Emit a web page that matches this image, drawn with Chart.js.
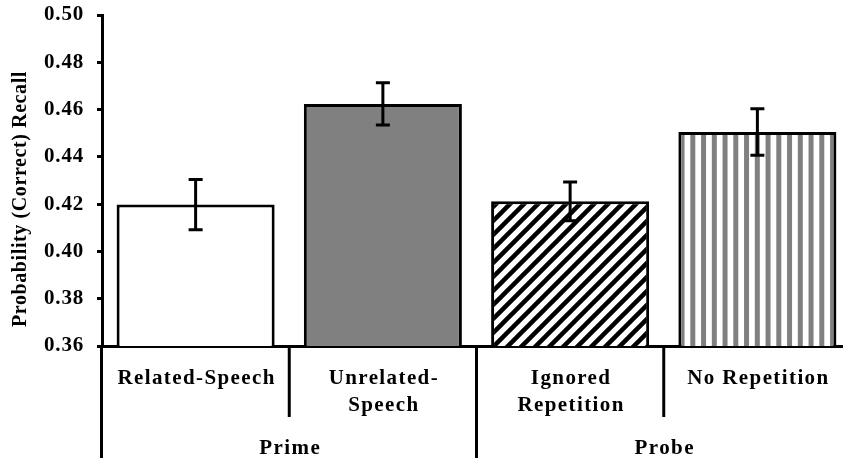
<!DOCTYPE html>
<html>
<head>
<meta charset="utf-8">
<script src="https://cdn.jsdelivr.net/npm/chart.js@4"></script>
<style>
  body { margin: 0; background: #fff; }
  #wrap { width: 843px; height: 472px; }
</style>
</head>
<body>
<div id="wrap"><canvas id="recallChart" width="843" height="472"></canvas></div>
<script>
// ===== data =====
const categories = [['Related-Speech'], ['Unrelated-', 'Speech'], ['Ignored', 'Repetition'], ['No Repetition']];
const groups = ['Prime', 'Probe'];
const groupSizes = [2, 2];
const recall = [0.4198, 0.4624, 0.4212, 0.4505];
const errors = [0.0106, 0.0089, 0.0082, 0.0098];
const yTicks = [0.36, 0.38, 0.40, 0.42, 0.44, 0.46, 0.48, 0.50];

const FONT = 'bold 21px "Liberation Serif"';

// ===== fill patterns =====
function hatchPattern() {
  const s = 14;
  const c = document.createElement('canvas');
  c.width = s; c.height = s;
  const g = c.getContext('2d');
  g.fillStyle = '#fff';
  g.fillRect(0, 0, s, s);
  g.strokeStyle = '#000';
  g.lineWidth = 4.5;
  g.beginPath();
  g.moveTo(-2, s + 2); g.lineTo(s + 2, -2);
  g.moveTo(-s / 2 - 2, s / 2 + 2); g.lineTo(s / 2 + 2, -s / 2 - 2);
  g.moveTo(s / 2 - 2, s * 1.5 + 2); g.lineTo(s * 1.5 + 2, s / 2 - 2);
  g.stroke();
  return g.createPattern(c, 'repeat');
}

function stripePattern() {
  const period = 10.75;
  const c = document.createElement('canvas');
  c.width = 43; c.height = 8;
  const g = c.getContext('2d');
  g.fillStyle = '#fff';
  g.fillRect(0, 0, 43, 8);
  g.fillStyle = '#808080';
  for (let i = 0; i < 4; i++) g.fillRect(i * period + 2.3, 0, 5, 8);
  return g.createPattern(c, 'repeat');
}

const fills = ['#ffffff', '#808080', hatchPattern(), stripePattern()];

// the last category runs past the right edge of the picture,
// and the value axis starts close to the top edge
const xSpan = 749;
const plotTop = 15;

const fitAxes = {
  id: 'fitAxes',
  afterLayout(chart) {
    const x = chart.scales.x;
    x.right = x.left + xSpan;
    x.width = xSpan;
    x.configure();

    const y = chart.scales.y;
    y.top = plotTop;
    y.height = y.bottom - plotTop;
    y.configure();
    chart.chartArea.top = plotTop;
    chart.chartArea.height = chart.chartArea.bottom - plotTop;
  }
};

// ===== extra drawing: error bars, split category axis, axis title =====
const decorations = {
  id: 'decorations',
  beforeDraw(chart) {
    chart.ctx.letterSpacing = '0.8px';
  },
  afterDraw(chart) {
    const ctx = chart.ctx;
    const x = chart.scales.x;
    const y = chart.scales.y;
    const area = chart.chartArea;
    const meta = chart.getDatasetMeta(0);

    ctx.save();
    ctx.strokeStyle = '#000';
    ctx.lineWidth = 3;

    // error bars
    meta.data.forEach((bar, i) => {
      const top = y.getPixelForValue(recall[i] + errors[i]);
      const bot = y.getPixelForValue(recall[i] - errors[i]);
      ctx.beginPath();
      ctx.moveTo(bar.x, top); ctx.lineTo(bar.x, bot);
      ctx.moveTo(bar.x - 7, top); ctx.lineTo(bar.x + 7, top);
      ctx.moveTo(bar.x - 7, bot); ctx.lineTo(bar.x + 7, bot);
      ctx.stroke();
    });

    // y axis carried down through the label rows
    const axisX = area.left - 0.5;
    ctx.beginPath();
    ctx.moveTo(axisX, area.bottom); ctx.lineTo(axisX, 458);
    ctx.stroke();

    // separators between categories
    const groupEnds = [];
    groupSizes.reduce((acc, n) => { groupEnds.push(acc + n); return acc + n; }, 0);
    for (let i = 1; i < categories.length; i++) {
      const bx = (x.getPixelForValue(i - 1) + x.getPixelForValue(i)) / 2;
      const long = groupEnds.includes(i);
      ctx.beginPath();
      ctx.moveTo(bx, area.bottom); ctx.lineTo(bx, long ? 458 : 417);
      ctx.stroke();
    }

    // category labels
    ctx.fillStyle = '#000';
    ctx.font = FONT;
    ctx.letterSpacing = '1.4px';
    ctx.textAlign = 'center';
    ctx.textBaseline = 'alphabetic';
    categories.forEach((lines, i) => {
      const cx = x.getPixelForValue(i) + 1;
      lines.forEach((t, j) => ctx.fillText(t, cx, 384 + j * 26.5));
    });

    // group labels
    let start = 0;
    groups.forEach((g, k) => {
      const end = start + groupSizes[k] - 1;
      const cx = (x.getPixelForValue(start) + x.getPixelForValue(end)) / 2 + 1;
      ctx.fillText(g, cx, 454);
      start = end + 1;
    });

    // y axis title
    ctx.font = 'bold 20px "Liberation Serif"';
    ctx.letterSpacing = '0.6px';
    ctx.translate(21, 199);
    ctx.rotate(-Math.PI / 2);
    ctx.textBaseline = 'middle';
    ctx.fillText('Probability (Correct) Recall', 0, 0);
    ctx.restore();
    ctx.letterSpacing = '0px';
  }
};

const ctx = document.getElementById('recallChart').getContext('2d');
new Chart(ctx, {
  type: 'bar',
  data: {
    labels: categories.map(c => c.join(' ')),
    datasets: [{
      data: recall,
      backgroundColor: fills,
      borderColor: '#000',
      borderWidth: 3,
      barPercentage: 0.844,
      categoryPercentage: 1.0
    }]
  },
  options: {
    responsive: false,
    animation: false,
    layout: { padding: { top: 7, right: 0, left: 0, bottom: 0 } },
    plugins: {
      legend: { display: false },
      tooltip: { enabled: false }
    },
    scales: {
      x: {
        offset: true,
        ticks: { display: false },
        grid: { display: false },
        border: { color: '#000', width: 3 },
        afterFit: s => { s.height = 126; }
      },
      y: {
        min: yTicks[0],
        max: yTicks[yTicks.length - 1],
        afterBuildTicks: s => { s.ticks = yTicks.map(v => ({ value: v })); },
        ticks: {
          callback: v => v.toFixed(2),
          font: { family: 'Liberation Serif', size: 21, weight: 'bold' },
          color: '#000',
          padding: 13
        },
        grid: { drawOnChartArea: false, tickLength: 5, tickWidth: 3, tickColor: '#000' },
        border: { color: '#000', width: 3 },
        afterFit: s => { s.width = 102; }
      }
    }
  },
  plugins: [fitAxes, decorations]
});
</script>
</body>
</html>
